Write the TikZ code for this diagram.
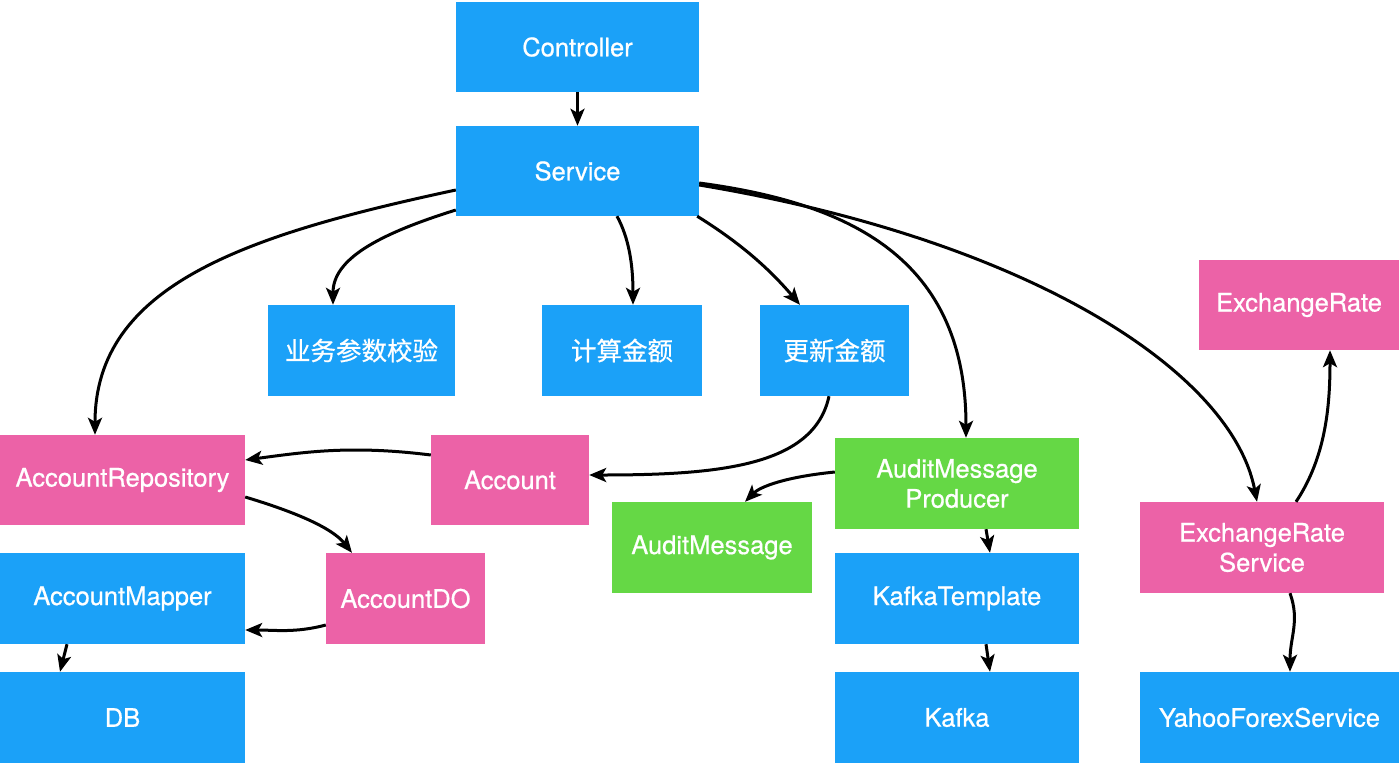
\documentclass[tikz,border=0pt]{standalone}
\usepackage{fontspec}
\setmainfont{TeX Gyre Heros}[FakeBold=0.7]
\newfontfamily\cjk{Noto Sans CJK SC}[FakeBold=0.6]
\usetikzlibrary{arrows.meta}

\definecolor{layerblue}{HTML}{1BA1F8}
\definecolor{modelpink}{HTML}{EC62A7}
\definecolor{auditgreen}{HTML}{65D845}

\tikzset{
  box/.style={rectangle, inner sep=0pt, text=white, align=center,
    font=\fontsize{25.5}{30}\selectfont},
  bluebox/.style={box, fill=layerblue},
  pinkbox/.style={box, fill=modelpink},
  greenbox/.style={box, fill=auditgreen},
  flow/.style={line width=3pt, -{Stealth[length=17pt,width=14pt,inset=4pt]}}
}

\begin{document}
\begin{tikzpicture}[x=1pt, y=-1pt]
\useasboundingbox (0,0) rectangle (1400,764);

% --- Top layers
\node[bluebox, minimum width=243pt, minimum height=90pt] (ctrl) at (577.5,47) {Controller};
\node[bluebox, minimum width=243pt, minimum height=90pt] (svc) at (577.5,171) {Service};

% --- Service steps
\node[bluebox, minimum width=187pt, minimum height=91pt] (check) at (361.5,350.5) {\cjk 业务参数校验};
\node[bluebox, minimum width=160pt, minimum height=91pt] (calc) at (622,350.5) {\cjk 计算金额};
\node[bluebox, minimum width=149pt, minimum height=91pt] (upd) at (834.5,350.5) {\cjk 更新金额};
\node[pinkbox, minimum width=200pt, minimum height=90pt] (rate) at (1299,305) {ExchangeRate};

% --- Account side
\node[pinkbox, minimum width=245pt, minimum height=90pt] (repo) at (122.5,480) {AccountRepository};
\node[pinkbox, minimum width=158pt, minimum height=90pt] (acct) at (510,480) {Account};
\node[bluebox, minimum width=245pt, minimum height=91pt] (mapper) at (122.5,598.5) {AccountMapper};
\node[pinkbox, minimum width=159pt, minimum height=91pt] (accdo) at (405.5,598.5) {AccountDO};
\node[bluebox, minimum width=245pt, minimum height=91pt] (db) at (122.5,717.5) {DB};

% --- Audit side
\node[greenbox, minimum width=244pt, minimum height=91pt] (producer) at (957,483.5) {AuditMessage\\Producer};
\node[greenbox, minimum width=200pt, minimum height=91pt] (auditmsg) at (712,547.5) {AuditMessage};
\node[bluebox, minimum width=244pt, minimum height=91pt] (kafkatpl) at (957,598.5) {KafkaTemplate};
\node[bluebox, minimum width=244pt, minimum height=91pt] (kafka) at (957,717.5) {Kafka};

% --- Exchange rate side
\node[pinkbox, minimum width=244pt, minimum height=91pt] (ratesvc) at (1262,547.5) {ExchangeRate\\Service};
\node[bluebox, minimum width=259pt, minimum height=91pt] (yahoo) at (1269.5,717.5) {YahooForexService};

% --- Calls
\draw[flow] (ctrl.south) -- (svc.north);
\draw[flow] ([yshift=-19pt]svc.west) .. controls +(-210,45) and +(0,-150) .. ([xshift=-27.5pt]repo.north);
\draw[flow] ([yshift=-39pt]svc.west) .. controls +(-80,25) and +(0,-45) .. ([xshift=-28.5pt]check.north);
\draw[flow] ([xshift=39.5pt]svc.south) .. controls +(12,22) and +(0,-40) .. ([xshift=11pt]calc.north);
\draw[flow] ([xshift=-2pt]svc.south east) .. controls +(45,28) and +(-30,-35) .. ([xshift=-34.5pt]upd.north);
\draw[flow] ([yshift=-12pt]svc.east) .. controls +(150,20) and +(0,-180) .. ([xshift=9pt]producer.north);
\draw[flow] ([yshift=-14pt]svc.east) .. controls +(330,55) and +(-25,-130) .. ([xshift=-5pt]ratesvc.north);
\draw[flow] ([xshift=34pt]ratesvc.north) .. controls +(30,-45) and +(0,55) .. ([xshift=31pt]rate.south);

% --- Persistence
\draw[flow] ([xshift=-5.5pt]upd.south) .. controls +(-15,70) and +(130,0) .. ([yshift=5pt]acct.east);
\draw[flow] ([yshift=25pt]acct.west) .. controls +(-80,-10) and +(60,-8) .. ([yshift=20pt]repo.east);
\draw[flow] ([yshift=-17pt]repo.east) .. controls +(50,15) and +(-20,-25) .. ([xshift=-53.5pt]accdo.north);
\draw[flow] ([yshift=-26.5pt]accdo.west) .. controls +(-30,8) and +(30,0) .. ([yshift=-31.5pt]mapper.east);
\draw[flow] ([xshift=-55.5pt]mapper.south) -- ([xshift=-62.5pt]db.north);

% --- Audit
\draw[flow] ([yshift=11.5pt]producer.west) .. controls +(-50,5) and +(15,-15) .. ([xshift=33pt]auditmsg.north);
\draw[flow] ([xshift=29pt]producer.south) -- ([xshift=33pt]kafkatpl.north);
\draw[flow] ([xshift=29pt]kafkatpl.south) -- ([xshift=33pt]kafka.north);
\draw[flow] ([xshift=28pt]ratesvc.south) .. controls +(10,28) and +(0,-35) .. ([xshift=20.5pt]yahoo.north);

\end{tikzpicture}
\end{document}
